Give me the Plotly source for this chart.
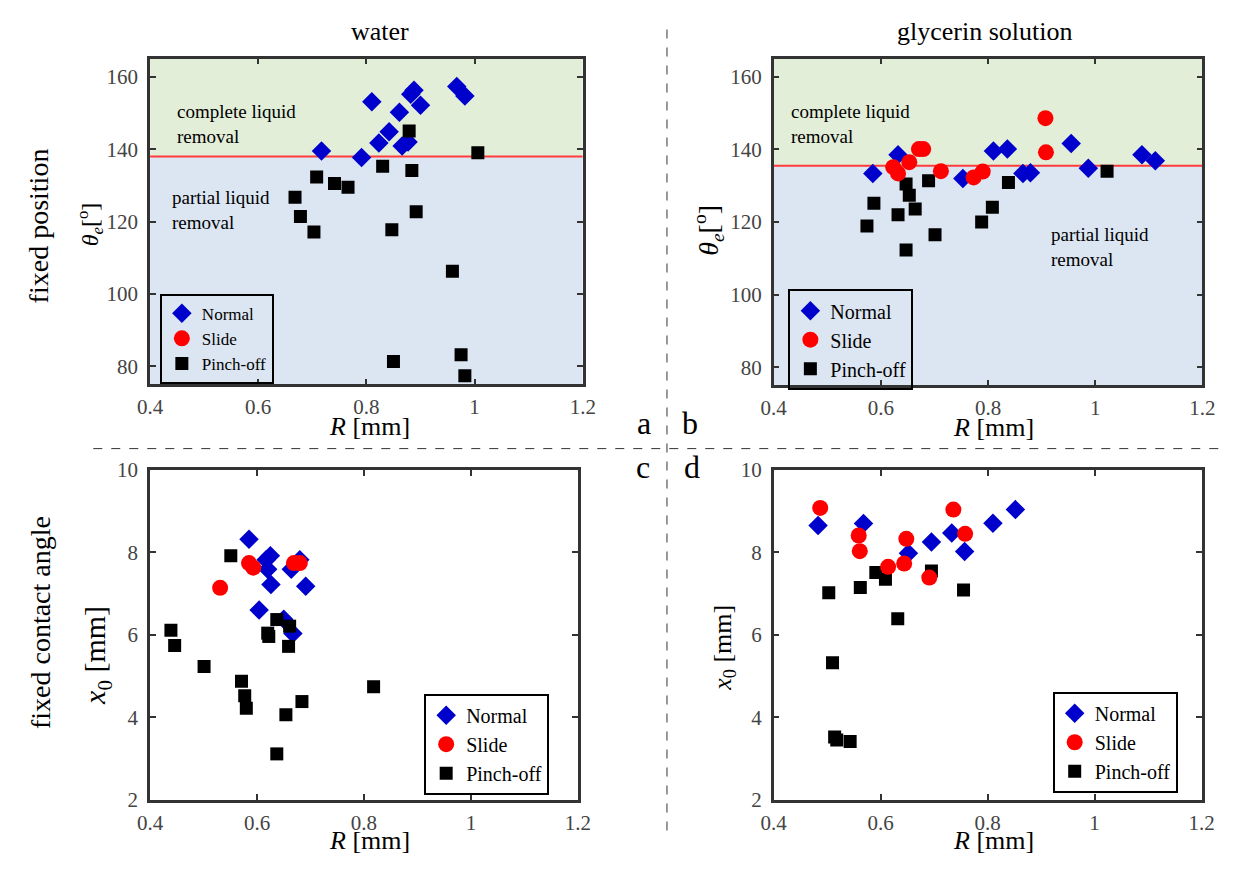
import plotly.graph_objects as go

# ---------------- data ----------------
# (a) water, fixed position
a_normal_R = [0.717, 0.791, 0.810, 0.823, 0.842, 0.861, 0.866, 0.877, 0.882, 0.888, 0.900, 0.967, 0.982]
a_normal_theta = [139.5, 137.7, 153.1, 141.7, 144.8, 150.2, 140.9, 142.0, 155.2, 156.3, 152.1, 157.3, 154.7]
a_slide_R = []
a_slide_theta = []
a_pinch_R = [0.668, 0.678, 0.703, 0.708, 0.741, 0.766, 0.830, 0.847, 0.879, 0.884, 0.892, 0.959, 0.850, 0.975, 0.982, 1.006]
a_pinch_theta = [126.7, 121.4, 117.1, 132.3, 130.5, 129.5, 135.3, 117.7, 145.0, 134.1, 122.7, 106.3, 81.3, 83.2, 77.4, 139.0]
a_threshold = 138.0

# (b) glycerin solution, fixed position
b_normal_R = [0.585, 0.632, 0.753, 0.810, 0.836, 0.865, 0.879, 0.955, 0.987, 1.087, 1.112]
b_normal_theta = [133.4, 138.5, 132.0, 139.6, 140.1, 133.4, 133.6, 141.6, 134.8, 138.5, 136.9]
b_slide_R = [0.623, 0.632, 0.653, 0.671, 0.679, 0.712, 0.773, 0.790, 0.907, 0.908]
b_slide_theta = [135.1, 133.4, 136.5, 140.1, 140.1, 134.0, 132.3, 133.9, 148.6, 139.2]
b_pinch_R = [0.574, 0.587, 0.632, 0.647, 0.653, 0.664, 0.647, 0.689, 0.701, 0.788, 0.808, 0.838, 1.022]
b_pinch_theta = [118.9, 125.2, 122.0, 130.5, 127.4, 123.6, 112.3, 131.4, 116.5, 120.0, 124.1, 130.9, 134.0]
b_threshold = 135.5

# (c) water, fixed contact angle
c_normal_R = [0.585, 0.617, 0.625, 0.620, 0.626, 0.664, 0.680, 0.691, 0.604, 0.650, 0.667]
c_normal_x0 = [8.32, 7.82, 7.92, 7.59, 7.22, 7.59, 7.82, 7.18, 6.60, 6.38, 6.03]
c_slide_R = [0.531, 0.585, 0.593, 0.669, 0.680]
c_slide_x0 = [7.14, 7.74, 7.63, 7.74, 7.74]
c_pinch_R = [0.551, 0.439, 0.446, 0.501, 0.571, 0.577, 0.580, 0.620, 0.622, 0.637, 0.661, 0.659, 0.654, 0.684, 0.637, 0.818]
c_pinch_x0 = [7.92, 6.11, 5.74, 5.23, 4.87, 4.52, 4.22, 6.04, 5.96, 6.37, 6.21, 5.72, 4.06, 4.38, 3.11, 4.74]

# (d) glycerin solution, fixed contact angle
d_normal_R = [0.483, 0.568, 0.652, 0.695, 0.733, 0.757, 0.810, 0.852]
d_normal_x0 = [8.65, 8.70, 7.98, 8.25, 8.47, 8.02, 8.71, 9.04]
d_slide_R = [0.487, 0.559, 0.561, 0.614, 0.648, 0.644, 0.691, 0.736, 0.758]
d_slide_x0 = [9.08, 8.41, 8.03, 7.65, 8.33, 7.73, 7.39, 9.04, 8.45]
d_pinch_R = [0.503, 0.510, 0.514, 0.518, 0.543, 0.562, 0.591, 0.609, 0.632, 0.695, 0.755]
d_pinch_x0 = [7.02, 5.32, 3.52, 3.45, 3.41, 7.15, 7.51, 7.35, 6.39, 7.55, 7.09]

x_ticks = [0.4, 0.6, 0.8, 1.0, 1.2]
x_ticktext = ["0.4", "0.6", "0.8", "1", "1.2"]
theta_ticks = [80, 100, 120, 140, 160]
x0_ticks = [2, 4, 6, 8, 10]

# ---------------- layout helpers ----------------
W, H = 1238, 869
SERIF = "Liberation Serif"


def fx(p):
    return p / W


def fy(p):
    return 1 - p / H


BLUE = "#0000CC"
RED = "#FF0000"
BLACK = "#000000"

fig = go.Figure()

panels = [
    dict(ax="", leg="legend", xr=(140, 582), yr=(48, 383), yrange=[75, 165], yticks=theta_ticks,
         data=[(a_normal_R, a_normal_theta), (a_slide_R, a_slide_theta), (a_pinch_R, a_pinch_theta)],
         legpos=(150, 336), legfont=17, legbg="rgba(0,0,0,0)"),
    dict(ax="2", leg="legend2", xr=(777, 1215), yr=(48, 384), yrange=[75, 165], yticks=theta_ticks,
         data=[(b_normal_R, b_normal_theta), (b_slide_R, b_slide_theta), (b_pinch_R, b_pinch_theta)],
         legpos=(792, 337), legfont=20, legbg="rgba(0,0,0,0)"),
    dict(ax="3", leg="legend3", xr=(140, 577), yr=(471, 810), yrange=[2, 10], yticks=x0_ticks,
         data=[(c_normal_R, c_normal_x0), (c_slide_R, c_slide_x0), (c_pinch_R, c_pinch_x0)],
         legpos=(420, 753), legfont=20, legbg="white"),
    dict(ax="4", leg="legend4", xr=(777, 1214), yr=(471, 810), yrange=[2, 10], yticks=x0_ticks,
         data=[(d_normal_R, d_normal_x0), (d_slide_R, d_slide_x0), (d_pinch_R, d_pinch_x0)],
         legpos=(1062, 751), legfont=20, legbg="white"),
]

styles = [
    ("Normal", dict(symbol="diamond", size=15, color=BLUE), 1),
    ("Slide", dict(symbol="circle", size=16, color=RED), 2),
    ("Pinch-off", dict(symbol="square", size=13, color=BLACK), 3),
]
draw_order = [0, 2, 1]  # normal, pinch-off, slide (slide on top)

axis_common = dict(
    ticks="inside", ticklen=6, tickwidth=2, tickcolor="#333",
    showline=True, linewidth=2.5, linecolor="#333", mirror="ticks",
    showgrid=False, zeroline=False,
    tickfont=dict(family=SERIF, size=21, color="#444"),
)

layout = dict(
    width=W, height=H, margin=dict(l=0, r=0, t=0, b=0),
    paper_bgcolor="white", plot_bgcolor="white",
    font=dict(family=SERIF, color="black"),
    showlegend=True,
)

shapes = []
for p in panels:
    ax = p["ax"]
    xname = "xaxis" + ax
    yname = "yaxis" + ax
    layout[xname] = dict(domain=[fx(p["xr"][0]), fx(p["xr"][1])], range=[0.4, 1.2],
                         tickvals=x_ticks, ticktext=x_ticktext, anchor="y" + ax,
                         ticklabelstandoff=2, **axis_common)
    layout[yname] = dict(domain=[fy(p["yr"][1]), fy(p["yr"][0])], range=p["yrange"],
                         tickvals=p["yticks"], anchor="x" + ax, ticklabelstandoff=5, **axis_common)
    layout[p["leg"]] = dict(
        x=fx(p["legpos"][0]), y=fy(p["legpos"][1]), xanchor="left", yanchor="middle",
        bordercolor="black", borderwidth=2, bgcolor=p["legbg"],
        font=dict(family=SERIF, size=p["legfont"], color="black"),
        tracegroupgap=0,
    )
    for i in draw_order:
        name, mk, rank = styles[i]
        xs, ys = p["data"][i]
        fig.add_trace(go.Scatter(
            x=xs if xs else [None], y=ys if ys else [None], mode="markers", name=name,
            marker=dict(symbol=mk["symbol"], size=mk["size"], color=mk["color"], line=dict(width=0)),
            xaxis="x" + ax, yaxis="y" + ax, legend=p["leg"], legendrank=rank,
            showlegend=True, hoverinfo="skip",
        ))

# shaded regions and threshold lines (panels a, b)
for ax, thr in (("", a_threshold), ("2", b_threshold)):
    xref, yref = "x" + ax, "y" + ax
    shapes.append(dict(type="rect", xref=xref, yref=yref, x0=0.4, x1=1.2, y0=75, y1=thr,
                       fillcolor="#DCE6F2", line=dict(width=0), layer="below"))
    shapes.append(dict(type="rect", xref=xref, yref=yref, x0=0.4, x1=1.2, y0=thr, y1=165,
                       fillcolor="#E3EED9", line=dict(width=0), layer="below"))
    shapes.append(dict(type="line", xref=xref, yref=yref, x0=0.4, x1=1.2, y0=thr, y1=thr,
                       line=dict(color="#FF3B3B", width=2), layer="below"))

# dashed separators
shapes.append(dict(type="line", xref="paper", yref="paper", x0=fx(668), x1=fx(668), y0=fy(18), y1=fy(845),
                   line=dict(color="#333", width=1, dash="dash")))
shapes.append(dict(type="line", xref="paper", yref="paper", x0=fx(82), x1=fx(1238), y0=fy(449), y1=fy(449),
                   line=dict(color="#333", width=1, dash="dash")))
layout["shapes"] = shapes


def ann(text, x, y, size, angle=0, xanchor="center", yanchor="middle", align="center"):
    return dict(text=text, x=fx(x), y=fy(y), xref="paper", yref="paper", showarrow=False,
                font=dict(family=SERIF, size=size, color="black"), textangle=angle,
                xanchor=xanchor, yanchor=yanchor, align=align)


annotations = [
    ann("water", 375, 20, 26),
    ann("glycerin solution", 992, 20, 26),
    ann("fixed position", 26, 220, 28, angle=-90),
    ann("fixed contact angle", 28, 628, 28, angle=-90),
    ann("<i>θ</i><sub><i>e</i></sub>[<sup>o</sup>]", 79, 218, 24, angle=-90),
    ann("<i>θ</i><sub><i>e</i></sub>[<sup>o</sup>]", 711, 225, 28, angle=-90),
    ann("<i>x</i><sub>0</sub> [mm]", 86, 662, 30, angle=-90),
    ann("<i>x</i><sub>0</sub> [mm]", 726, 654, 26, angle=-90),
    ann("<i>R</i> [mm]", 364, 426, 26),
    ann("<i>R</i> [mm]", 1002, 427, 26),
    ann("<i>R</i> [mm]", 364, 852, 26),
    ann("<i>R</i> [mm]", 1002, 852, 26),
    ann("a", 645, 423, 32),
    ann("b", 692, 423, 32),
    ann("c", 644, 468, 32),
    ann("d", 694, 468, 32),
    ann("complete liquid<br>removal", 165, 115, 19, xanchor="left", align="left"),
    ann("partial liquid<br>removal", 160, 204, 19, xanchor="left", align="left"),
    ann("complete liquid<br>removal", 793, 115, 19, xanchor="left", align="left"),
    ann("partial liquid<br>removal", 1058, 242, 19, xanchor="left", align="left"),
]
layout["annotations"] = annotations

fig.update_layout(**layout)
fig.write_html("out.html", config={"displayModeBar": False})
